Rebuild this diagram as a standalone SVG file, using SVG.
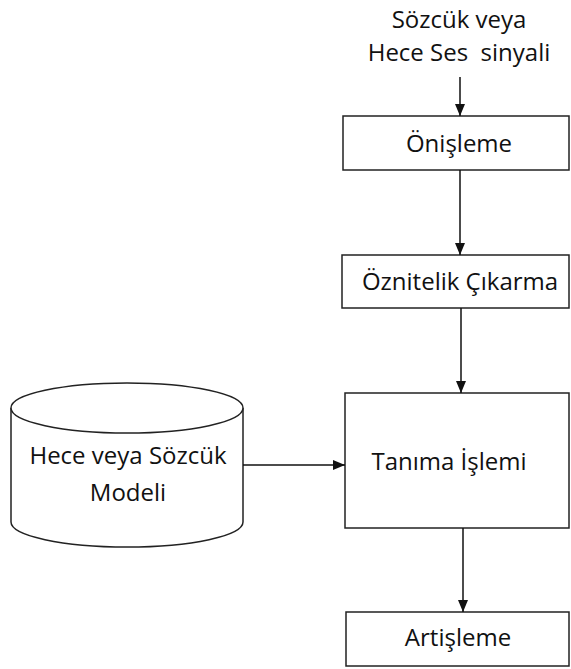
<svg xmlns="http://www.w3.org/2000/svg" width="571" height="669" viewBox="0 0 571 669">
<style>
.box{fill:#fff;stroke:#222;stroke-width:1.5}
.t{font-family:"Open Sans","Noto Sans",sans-serif;font-size:24px;fill:#111;text-anchor:middle}
.c{stroke:#111;stroke-width:1.5;fill:none}
</style>
<defs>
<marker id="ah" markerWidth="12" markerHeight="12" viewBox="0 0 12 12" refX="12" refY="6" orient="auto" markerUnits="userSpaceOnUse">
<path d="M0,1 L12,6 L0,11 Z" fill="#111"/>
</marker>
</defs>
<rect width="571" height="669" fill="#fff"/>
<g id="input">
<text class="t" x="459" y="28">Sözcük veya</text>
<text class="t" x="459" y="61" xml:space="preserve">Hece Ses  sinyali</text>
</g>
<g id="onisleme">
<rect class="box" x="343" y="116" width="226" height="54"/>
<text class="t" x="459" y="152">Önişleme</text>
</g>
<g id="oznitelik">
<rect class="box" x="342" y="255" width="227" height="53"/>
<text class="t" x="460" y="290">Öznitelik Çıkarma</text>
</g>
<g id="tanima">
<rect class="box" x="345" y="393" width="224" height="135"/>
<text class="t" x="449" y="470">Tanıma İşlemi</text>
</g>
<g id="artisleme">
<rect class="box" x="346" y="612" width="223" height="54"/>
<text class="t" x="458" y="646">Artişleme</text>
</g>
<g id="model">
<path class="box" d="M11,408 L11,522 A116,25 0 0 0 243,522 L243,408"/>
<ellipse class="box" cx="127" cy="408" rx="116" ry="25"/>
<text class="t" x="128" y="464">Hece veya Sözcük</text>
<text class="t" x="128" y="501">Modeli</text>
</g>
<g id="connectors">
<line class="c" x1="460" y1="77" x2="460" y2="116" marker-end="url(#ah)"/>
<line class="c" x1="460" y1="170" x2="460" y2="255" marker-end="url(#ah)"/>
<line class="c" x1="461" y1="308" x2="461" y2="393" marker-end="url(#ah)"/>
<line class="c" x1="463" y1="528" x2="463" y2="612" marker-end="url(#ah)"/>
<line class="c" x1="243" y1="465" x2="345" y2="465" marker-end="url(#ah)"/>
</g>
</svg>
